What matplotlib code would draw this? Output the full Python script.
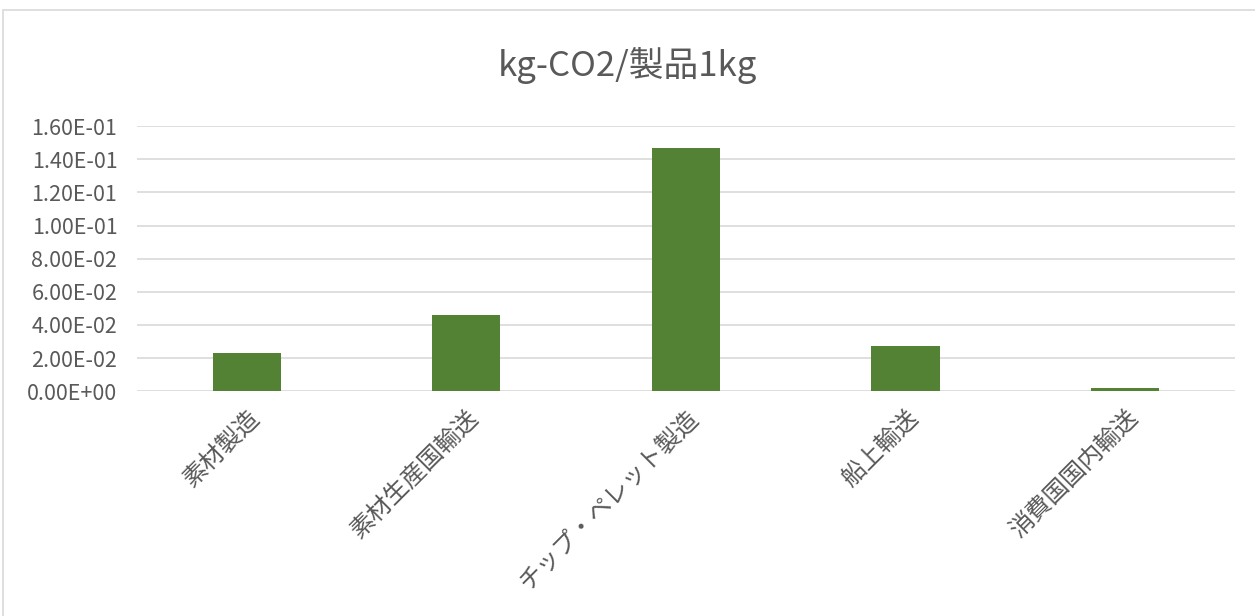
import matplotlib
matplotlib.use("Agg")
import matplotlib.pyplot as plt
from matplotlib.patches import Rectangle
from matplotlib.ticker import FuncFormatter

plt.rcParams['font.family'] = ['Noto Sans CJK JP', 'DejaVu Sans']

# データ
categories = ["素材製造", "素材生産国輸送", "チップ・ペレット製造", "船上輸送", "消費国国内輸送"]
values = [0.023, 0.046, 0.147, 0.027, 0.002]
title = "kg-CO2/製品1kg"

fig = plt.figure(figsize=(12.55, 6.16), dpi=100)
ax = fig.add_axes([0.109, 0.365, 0.875, 0.43])

# 外枠
fig.patches.append(Rectangle((0.002, -0.1), 1.2, 1.084, transform=fig.transFigure,
                             fill=False, edgecolor="#d9d9d9", linewidth=1.2))

x = range(len(categories))
ax.bar(x, values, width=0.31, color="#548235", zorder=3)

ax.set_xlim(-0.5, len(categories) - 0.5)
ax.set_ylim(0, 0.16)
ax.set_yticks([i * 0.02 for i in range(9)])
ax.yaxis.set_major_formatter(FuncFormatter(lambda v, p: f"{v:.2E}"))
ax.grid(axis="y", color="#d9d9d9", linewidth=1.2, zorder=0)
ax.set_axisbelow(True)
for s in ax.spines.values():
    s.set_visible(False)
ax.tick_params(axis="y", length=0, labelsize=15.5, colors="#595959", pad=14)
ax.tick_params(axis="x", length=0, labelsize=17.5, colors="#595959", pad=10)

ax.set_xticks(list(x))
ax.set_xticklabels(categories, rotation=45, ha="right", rotation_mode="anchor")

fig.text(0.5, 0.894, title, ha="center", va="center", fontsize=25, color="#595959")

fig.savefig("out.png")
